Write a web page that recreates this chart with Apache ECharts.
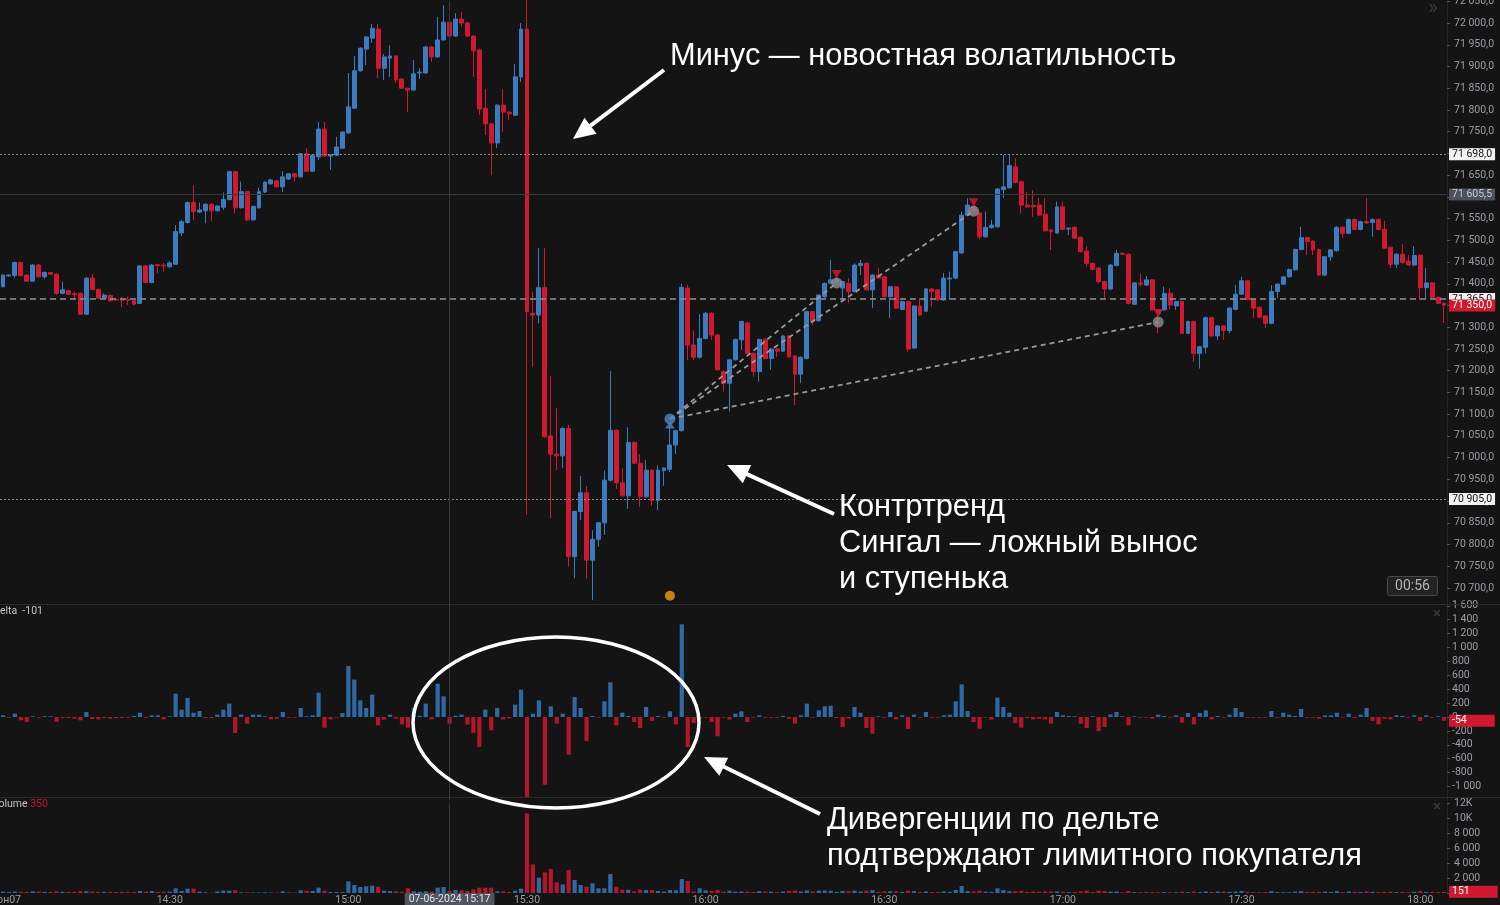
<!DOCTYPE html>
<html><head><meta charset="utf-8">
<script src="https://cdn.jsdelivr.net/npm/echarts@6/dist/echarts.min.js"></script>
<style>html,body{margin:0;padding:0;background:#141414;}#c{width:1500px;height:905px;}</style>
</head><body><div id="c"></div>
<script>
// ---------- DATA ----------
const startMinute = 14 * 60 + 2; // first candle 14:02, 1-minute bars
const candleCount = 243;
const times = [];
for (let i = 0; i < candleCount; i++) {
  const m = startMinute + i;
  times.push(String(Math.floor(m / 60)).padStart(2, '0') + ':' + String(m % 60).padStart(2, '0'));
}
// [open, close, low, high]
const candles = [
[71393,71420,71392,71421],[71418,71420,71416,71422],[71419,71449,71414,71451],[71449,71419,71417,71451],[71420,71406,71404,71422],
[71406,71443,71404,71445],[71443,71416,71414,71446],[71416,71426,71412,71428],[71426,71422,71420,71428],[71422,71378,71374,71424],
[71378,71386,71376,71405],[71384,71376,71374,71386],[71377,71375,71363,71382],[71378,71330,71328,71380],[71330,71413,71328,71415],
[71413,71387,71385,71422],[71387,71367,71365,71389],[71367,71374,71365,71378],[71373,71361,71358,71375],[71364,71363,71361,71366],
[71364,71362,71346,71370],[71364,71362,71351,71370],[71361,71353,71350,71363],[71355,71441,71353,71443],[71441,71403,71401,71443],
[71403,71443,71401,71445],[71444,71442,71424,71446],[71443,71441,71428,71448],[71439,71448,71437,71452],[71445,71520,71443,71535],
[71517,71543,71510,71547],[71541,71587,71539,71589],[71587,71566,71547,71627],[71565,71570,71563,71587],[71568,71583,71539,71585],
[71583,71568,71544,71585],[71568,71579,71566,71581],[71576,71594,71570,71610],[71594,71658,71592,71660],[71658,71575,71562,71660],
[71575,71612,71573,71635],[71612,71547,71545,71614],[71547,71578,71545,71580],[71575,71612,71573,71621],[71611,71634,71609,71636],
[71630,71639,71628,71641],[71637,71623,71621,71639],[71623,71646,71611,71659],[71641,71653,71639,71655],[71653,71646,71635,71655],
[71646,71699,71644,71701],[71699,71659,71657,71712],[71659,71696,71657,71698],[71692,71756,71685,71772],[71756,71694,71692,71772],
[71694,71697,71662,71698],[71696,71715,71694,71738],[71712,71749,71710,71751],[71747,71807,71745,71885],[71804,71890,71802,71924],
[71890,71942,71888,71944],[71940,71968,71903,71970],[71965,71988,71954,71998],[71986,71896,71873,71998],[71896,71922,71869,71929],
[71919,71924,71876,71949],[71924,71869,71862,71926],[71871,71850,71848,71873],[71850,71846,71795,71851],[71846,71883,71844,71915],
[71885,71887,71871,71896],[71885,71945,71883,71947],[71945,71922,71910,71947],[71922,71961,71920,72014],[71961,72002,71959,72041],
[72002,71970,71961,72004],[71970,72009,71968,72023],[72009,72000,71991,72025],[72000,71970,71968,72002],[71970,71936,71876,71972],
[71938,71802,71788,71940],[71804,71768,71742,71848],[71768,71724,71650,71770],[71724,71811,71712,71813],[71811,71795,71749,71848],
[71795,71791,71777,71797],[71788,71876,71786,71906],[71876,71986,71864,72000],[71986,71336,70868,72060],[71332,71328,71209,71382],
[71328,71391,71309,71482],[71391,71048,71046,71482],[71050,71008,70861,71188],[71008,71004,70971,71114],[71004,71067,70976,71070],
[71067,70772,70749,71075],[70772,70876,70722,70878],[70876,70919,70856,70958],[70919,70764,70722,70934],[70764,70812,70672,70833],
[70812,70850,70795,70852],[70850,70948,70822,70970],[70948,71063,70945,71199],[71063,70942,70928,71065],[70942,70912,70910,70975],
[70912,71035,70882,71070],[71035,70987,70985,71037],[70987,70910,70886,71008],[70910,70971,70908,70994],[70971,70901,70889,70973],
[70901,70971,70879,70982],[70970,70976,70935,70978],[70973,71029,70967,71070],[71029,71062,71008,71064],[71062,71392,71060,71400],
[71390,71259,71224,71398],[71259,71231,71224,71293],[71231,71274,71228,71330],[71274,71332,71272,71335],[71332,71282,71271,71334],
[71282,71202,71200,71284],[71198,71171,71152,71200],[71171,71225,71106,71227],[71225,71272,71223,71274],[71271,71313,71248,71315],
[71310,71240,71238,71312],[71240,71198,71186,71242],[71198,71272,71175,71274],[71272,71228,71226,71274],[71228,71250,71202,71252],
[71250,71245,71232,71252],[71245,71280,71243,71282],[71280,71232,71230,71282],[71234,71192,71121,71236],[71192,71231,71171,71233],
[71228,71336,71226,71338],[71336,71313,71305,71338],[71315,71374,71313,71376],[71370,71401,71368,71403],[71401,71409,71399,71455],
[71405,71409,71401,71416],[71390,71405,71363,71407],[71401,71382,71355,71413],[71382,71443,71380,71447],[71442,71447,71420,71455],
[71447,71386,71384,71449],[71386,71420,71344,71422],[71420,71413,71411,71436],[71416,71370,71368,71418],[71370,71393,71321,71395],
[71393,71344,71342,71395],[71341,71359,71339,71361],[71359,71250,71244,71361],[71252,71349,71250,71351],[71349,71328,71326,71367],
[71337,71388,71335,71390],[71388,71382,71347,71390],[71386,71363,71361,71388],[71363,71413,71361,71425],[71411,71413,71363,71428],
[71413,71474,71411,71476],[71471,71558,71469,71566],[71558,71581,71556,71597],[71579,71568,71562,71585],[71563,71508,71502,71565],
[71508,71530,71506,71566],[71529,71535,71527,71547],[71531,71618,71529,71620],[71617,71623,71597,71696],[71621,71672,71619,71696],
[71669,71633,71631,71689],[71635,71581,71562,71637],[71581,71577,71575,71612],[71580,71577,71554,71616],[71581,71558,71556,71597],
[71560,71522,71520,71597],[71524,71520,71478,71526],[71517,71577,71515,71589],[71577,71525,71523,71589],[71526,71528,71512,71530],
[71530,71505,71503,71532],[71507,71474,71472,71509],[71475,71447,71439,71487],[71447,71433,71431,71449],[71436,71405,71401,71438],
[71405,71388,71364,71407],[71388,71443,71386,71445],[71442,71470,71440,71478],[71470,71468,71466,71472],[71468,71355,71353,71470],
[71353,71402,71351,71404],[71402,71399,71393,71424],[71397,71409,71395,71418],[71409,71340,71338,71411],[71340,71332,71286,71342],
[71340,71378,71338,71393],[71378,71351,71341,71390],[71349,71359,71340,71361],[71359,71286,71284,71361],[71286,71313,71284,71315],
[71313,71240,71221,71315],[71240,71255,71205,71257],[71254,71322,71240,71324],[71322,71280,71278,71324],[71280,71303,71271,71305],
[71303,71292,71271,71305],[71292,71344,71286,71346],[71341,71376,71339,71397],[71376,71407,71374,71416],[71407,71364,71362,71409],
[71364,71344,71321,71366],[71346,71323,71321,71348],[71326,71309,71298,71328],[71309,71382,71307,71397],[71382,71399,71367,71401],
[71399,71416,71397,71418],[71416,71433,71414,71435],[71432,71479,71430,71481],[71479,71506,71477,71531],[71506,71497,71466,71508],
[71498,71478,71466,71500],[71479,71420,71418,71481],[71420,71462,71418,71464],[71462,71478,71453,71480],[71476,71530,71474,71532],
[71530,71516,71505,71532],[71516,71548,71514,71550],[71548,71525,71523,71550],[71525,71543,71523,71545],[71543,71540,71538,71597],
[71541,71548,71508,71550],[71548,71525,71523,71550],[71525,71482,71480,71545],[71484,71445,71436,71486],[71445,71468,71436,71470],
[71468,71449,71447,71491],[71452,71443,71441,71466],[71443,71465,71441,71487],[71466,71391,71363,71468],[71391,71402,71367,71436],
[71402,71369,71367,71404],[71369,71355,71353,71371],[71355,71351,71310,71357]
];
const delta = [
25,-10,48,-48,-70,10,-10,10,10,-70,
-15,-15,-25,-48,72,-29,-34,-15,-24,-15,
-15,-10,15,62,-15,24,24,-34,10,336,
106,274,62,86,-15,-15,34,106,192,-230,
34,-96,34,34,10,-34,-24,72,-10,-10,
130,10,24,350,-154,-34,-10,58,734,538,
240,130,322,-120,-38,34,-24,-106,-154,130,
20,192,-34,480,298,-96,19,34,-110,-230,
-432,106,-192,130,-34,-19,178,394,-1152,48,
240,-974,154,-96,48,-542,288,130,-346,15,
-10,226,499,-120,62,15,-72,-158,144,-58,
15,-10,82,-106,1334,-432,-86,-24,-10,-72,
-278,-10,-38,48,82,-72,
-10,24,-10,-10,-10,15,-24,-96,24,192,
-10,96,154,163,-15,-144,-24,144,62,-158,
-240,10,-10,72,-34,24,-173,34,-10,72,
-10,-10,24,34,226,470,86,-72,-168,-10,
-38,278,144,62,-86,-154,-15,-34,-24,-34,
-96,72,24,15,10,-96,-158,10,-202,-144,
38,72,10,-120,10,-10,-10,-24,34,15,
-10,24,-82,58,-106,58,96,-34,15,-10,
34,130,72,-10,-10,-10,-10,86,-10,62,
34,15,115,-10,-10,-24,24,24,62,-10,
48,-15,34,130,-58,-106,-24,-34,24,15,
-10,24,-58,24,-10,10,-54
];
const volume = [
180,150,200,170,160,220,200,150,140,230,
160,150,170,260,240,190,170,150,160,130,
140,150,130,270,180,260,150,160,180,
620,270,580,580,180,90,60,220,310,310,
350,90,90,60,60,90,60,60,220,60,
60,350,310,270,710,310,130,130,120,1550,
1070,800,890,980,840,310,270,220,180,620,
220,180,220,180,710,800,310,400,350,270,
490,710,710,710,220,220,130,310,580,10600,
3820,2040,2750,3200,1420,1150,3060,1730,1070,840,
1290,620,620,2530,840,440,440,220,440,400,
400,270,180,400,350,1860,1600,220,620,350,
270,400,180,300,180,200,180,
150,250,200,180,120,200,300,320,200,350,
220,320,330,300,150,280,250,300,200,320,
380,150,200,250,220,150,300,250,150,200,
120,150,200,150,400,930,250,200,300,180,
150,620,380,250,250,300,150,200,180,200,
220,200,180,120,150,220,300,120,300,260,
180,200,100,260,120,100,100,120,100,120,
100,100,180,100,200,120,200,150,200,200,
150,200,280,150,120,100,120,250,120,100,
100,200,250,150,150,150,180,150,250,120,
200,150,130,220,160,120,150,180,120,150,
100,160,260,150,150,120,151
];
const priceLevels = [71698, 71605.5, 71365, 70905];
const lastPrice = 71350;
const lastDelta = -54;
const lastVolume = 151;
const crosshairTime = '15:17';
const crosshairLabel = '07-06-2024 15:17';
const signalOrigin = ['15:54', 71089];
const signalTargets = [['16:22', 71402], ['16:45', 71567], ['17:16', 71312]];
const orangeDot = ['15:54', 70682];
const deltaTitleValue = -101;
const volumeTitleValue = 350;

// ---------- STYLE ----------
const BG = '#141414', UP = '#3b7bbf', DN = '#d0192f', UPB = '#2f69a3', DNB = '#b3162b';
const AX = '#9a9ea5', FONT = 'Roboto';
const HIDDEN = { color: 'rgba(0,0,0,0)', width: 0, type: 'solid' };
function grp(n) { return String(n).replace(/\B(?=(\d{3})+(?!\d))/g, ' '); }
function priceFmt(v) { const p = Number(v).toFixed(1).split('.'); return grp(p[0]) + ',' + p[1]; }
function volFmt(v) { return v >= 10000 ? (v / 1000) + 'K' : grp(v); }

const deltaData = delta.map(v => ({ value: v, itemStyle: { color: v >= 0 ? UPB : DNB } }));
const volumeData = volume.map((v, i) => ({ value: v, itemStyle: { color: candles[i][1] >= candles[i][0] ? UPB : DNB } }));

function tag(bg, fg, fmt, padR) {
  return { show: true, position: 'end', distance: 2, backgroundColor: bg, color: fg, padding: [1, padR || 3, 0, 3],
           fontSize: 10.5, fontFamily: FONT, formatter: fmt || (p => priceFmt(p.value)) };
}
const crossLine = { xAxis: crosshairTime, lineStyle: { color: '#383838', type: 'solid', width: 1 }, label: { show: false } };

const mainMarkLine = {
  symbol: ['none', 'none'], silent: true, animation: false,
  data: [
    { yAxis: priceLevels[1], lineStyle: { color: '#3a3a3a', type: 'solid', width: 1 }, label: tag('#4b525a', '#c9ccd0') },
    { yAxis: priceLevels[0], lineStyle: { color: '#8c8c8c', type: [2, 2], width: 1 }, label: tag('#f2f2f2', '#111') },
    { yAxis: priceLevels[3], lineStyle: { color: '#8c8c8c', type: [2, 2], width: 1 }, label: tag('#f2f2f2', '#111') },
    { yAxis: priceLevels[2], lineStyle: { color: '#909090', type: [6, 4], width: 1.6 }, label: tag('#f2f2f2', '#111') },
    { yAxis: lastPrice, lineStyle: HIDDEN, label: tag(DN, '#fff') },
    crossLine
  ]
};

// ---------- ANNOTATIONS ----------
function arrow(x1, y1, x2, y2) {
  const dx = x2 - x1, dy = y2 - y1, L = Math.hypot(dx, dy), ux = dx / L, uy = dy / L;
  const hl = 22, hw = 10, bx = x2 - ux * hl, by = y2 - uy * hl, nx = -uy, ny = ux;
  return [
    { type: 'line', z: 100, shape: { x1: x1, y1: y1, x2: bx + ux * 2, y2: by + uy * 2 }, style: { stroke: '#fff', lineWidth: 4 } },
    { type: 'polygon', z: 100, shape: { points: [[x2, y2], [bx + nx * hw, by + ny * hw], [bx - nx * hw, by - ny * hw]] }, style: { fill: '#fff' } }
  ];
}
function bigText(x, y, t) {
  return { type: 'text', z: 100, x: x, y: y, style: { text: t, fill: '#fff', fontSize: 30.8, fontFamily: '"Liberation Sans", Arial, sans-serif', verticalAlign: 'middle', align: 'left' } };
}
const graphics = [
  { type: 'line', z: 1, shape: { x1: 0, y1: 604.5, x2: 1500, y2: 604.5 }, style: { stroke: '#2a2a2a', lineWidth: 1 } },
  { type: 'line', z: 1, shape: { x1: 0, y1: 797.5, x2: 1500, y2: 797.5 }, style: { stroke: '#2a2a2a', lineWidth: 1 } },
  { type: 'ellipse', z: 100, shape: { cx: 556, cy: 722.5, rx: 143, ry: 85.5 }, style: { fill: 'none', stroke: '#fff', lineWidth: 3.5 } },
  ...arrow(664, 70, 573, 139),
  ...arrow(834, 514, 727, 465),
  ...arrow(820, 814, 704, 757),
  bigText(670, 57, 'Минус — новостная волатильность'),
  bigText(839, 508, 'Контртренд'),
  bigText(839, 544, 'Сингал — ложный вынос'),
  bigText(839, 580, 'и ступенька'),
  bigText(827, 821, 'Дивергенции по дельте'),
  bigText(827, 857, 'подтверждают лимитного покупателя'),
  { type: 'rect', z: 50, shape: { x: 1387.5, y: 576.5, width: 50, height: 19, r: 2 }, style: { fill: '#232323', stroke: '#4a4a4a', lineWidth: 1 } },
  { type: 'text', z: 51, x: 1412.5, y: 586, style: { text: '00:56', fill: '#b8b8b8', fontSize: 14, fontFamily: FONT, align: 'center', verticalAlign: 'middle' } },
  { type: 'text', z: 50, x: 1433, y: 9, style: { text: '»', fill: '#3c3c3c', fontSize: 20, fontFamily: FONT, align: 'center', verticalAlign: 'middle' } },
  { type: 'text', z: 50, x: 1437, y: 614, style: { text: '×', fill: '#3c3c3c', fontSize: 15, fontFamily: FONT, align: 'center', verticalAlign: 'middle' } },
  { type: 'text', z: 50, x: 1437, y: 807, style: { text: '×', fill: '#3c3c3c', fontSize: 15, fontFamily: FONT, align: 'center', verticalAlign: 'middle' } },
  { type: 'text', z: 50, x: -7, y: 611, style: { text: 'Delta  ' + deltaTitleValue, fill: '#c4c4c4', fontSize: 10.5, fontFamily: FONT, verticalAlign: 'middle' } },
  { type: 'text', z: 50, x: -8, y: 804, style: { text: '{a|Volume} {b|' + volumeTitleValue + '}', fontSize: 10.5, fontFamily: FONT, verticalAlign: 'middle',
      rich: { a: { fill: '#c4c4c4', fontSize: 10.5, fontFamily: FONT }, b: { fill: '#c0182b', fontSize: 10.5, fontFamily: FONT } } } },
  { type: 'text', z: 50, x: 21, y: 900, style: { text: 'Июн07', fill: AX, fontSize: 10.5, fontFamily: FONT, align: 'right', verticalAlign: 'middle' } }
];

// ---------- CHART ----------
const chart = echarts.init(document.getElementById('c'), null, { renderer: 'canvas' });
const hiddenX = (gi) => ({ type: 'category', gridIndex: gi, data: times, boundaryGap: true,
  axisLine: { show: false }, axisTick: { show: false }, axisLabel: { show: false }, splitLine: { show: false } });
const yCommon = { position: 'right', splitLine: { show: false },
  axisLine: { show: true, lineStyle: { color: '#262626' } },
  axisTick: { show: true, length: 3, lineStyle: { color: '#555' } } };

chart.setOption({
  backgroundColor: BG,
  animation: false,
  grid: [
    { left: 0, right: 53, top: 1.3, height: 608.4, outerBoundsMode: 'none' },
    { left: 0, right: 53, top: 605.8, height: 194.6, outerBoundsMode: 'none' },
    { left: 0, right: 53, top: 803, height: 90, outerBoundsMode: 'none' }
  ],
  xAxis: [
    hiddenX(0), hiddenX(1),
    { type: 'category', gridIndex: 2, data: times, boundaryGap: true,
      axisLine: { show: false }, axisTick: { show: false }, splitLine: { show: false },
      axisLabel: { show: true, color: AX, fontSize: 10.5, fontFamily: FONT, margin: 2,
        interval: (idx, val) => val.endsWith(':00') || val.endsWith(':30') } }
  ],
  yAxis: [
    Object.assign({ type: 'value', gridIndex: 0, min: 70650, max: 72050, interval: 50,
      axisLabel: { color: AX, fontSize: 10.5, fontFamily: FONT, margin: 7, showMinLabel: false, formatter: priceFmt } }, yCommon),
    Object.assign({ type: 'value', gridIndex: 1, min: -1200, max: 1600, interval: 200,
      axisLabel: { color: AX, fontSize: 10.5, fontFamily: FONT, margin: 5, showMinLabel: false, formatter: v => grp(v) } }, yCommon),
    Object.assign({ type: 'value', gridIndex: 2, min: 0, max: 12000, interval: 2000,
      axisLabel: { color: AX, fontSize: 10.5, fontFamily: FONT, margin: 7, formatter: volFmt } }, yCommon)
  ],
  series: [
    { type: 'candlestick', xAxisIndex: 0, yAxisIndex: 0, data: candles, barWidth: 4.4, clip: true, z: 3,
      itemStyle: { color: UP, color0: DN, borderColor: UP, borderColor0: DN, borderWidth: 1 },
      markLine: mainMarkLine },
    ...signalTargets.map(t => ({ type: 'line', xAxisIndex: 0, yAxisIndex: 0, data: [signalOrigin, t], symbol: 'none', z: 4,
      lineStyle: { color: '#9a9a9a', width: 1.8, type: [5, 4] } })),
    { type: 'scatter', xAxisIndex: 0, yAxisIndex: 0, data: signalTargets, symbol: 'circle', symbolSize: 11, z: 5,
      itemStyle: { color: '#8e8e8e' } },
    { type: 'scatter', xAxisIndex: 0, yAxisIndex: 0, data: signalTargets, symbol: 'triangle', symbolRotate: 180,
      symbolSize: [10, 8], symbolOffset: [0, -9], z: 6, itemStyle: { color: DN } },
    { type: 'scatter', xAxisIndex: 0, yAxisIndex: 0, data: [signalOrigin], symbol: 'triangle', symbolSize: [10, 7],
      symbolOffset: [0, 6], z: 5, itemStyle: { color: '#4a86c5' } },
    { type: 'scatter', xAxisIndex: 0, yAxisIndex: 0, data: [signalOrigin], symbol: 'circle', symbolSize: 11, z: 6,
      itemStyle: { color: '#4a86c5' } },
    { type: 'scatter', xAxisIndex: 0, yAxisIndex: 0, data: [orangeDot], symbol: 'circle', symbolSize: 10, z: 6,
      itemStyle: { color: '#f39c12' } },
    { type: 'bar', xAxisIndex: 1, yAxisIndex: 1, data: deltaData, barWidth: 4.2, z: 3,
      markLine: { symbol: ['none', 'none'], silent: true, animation: false,
        data: [crossLine, { yAxis: lastDelta, lineStyle: HIDDEN, label: tag(DN, '#fff', String(lastDelta), 28) }] } },
    { type: 'bar', xAxisIndex: 2, yAxisIndex: 2, data: volumeData, barWidth: 4.2, z: 3,
      markLine: { symbol: ['none', 'none'], silent: true, animation: false,
        data: [
          Object.assign({}, crossLine, { label: { show: true, position: 'start', distance: 0, formatter: crosshairLabel,
            backgroundColor: '#4f565e', color: '#e2e2e2', padding: [1, 4, 1, 4], fontSize: 10.5, fontFamily: FONT } }),
          { yAxis: lastVolume, lineStyle: HIDDEN, label: tag(DN, '#fff', String(lastVolume), 28) }
        ] } }
  ],
  graphic: graphics
});
</script></body></html>
